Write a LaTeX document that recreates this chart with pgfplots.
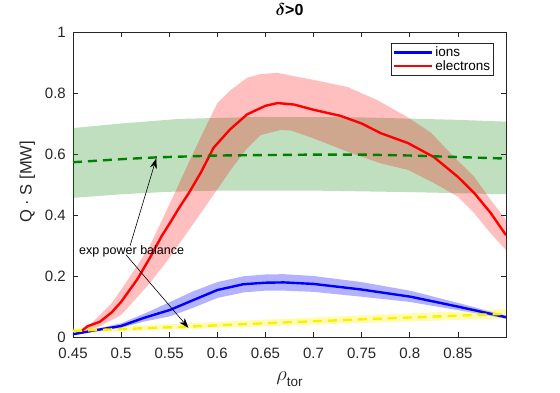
\documentclass[border=0pt]{standalone}
\usepackage{fontspec}
\setmainfont{Liberation Sans}
\usepackage{amsmath}
\usepackage{pgfplots}
\pgfplotsset{compat=1.18}
\usetikzlibrary{arrows.meta}
\definecolor{mgray}{HTML}{262626}
\definecolor{mgreen}{rgb}{0,0.5,0}
\definecolor{myellow}{rgb}{0.97,0.95,0}
\newcommand\fsTick{\fontsize{15bp}{17bp}\selectfont}
\newcommand\fsLab{\fontsize{16.5bp}{18bp}\selectfont}
\newcommand\fsLeg{\fontsize{13.5bp}{15bp}\selectfont}
\newcommand\fsAnn{\fontsize{12.5bp}{14bp}\selectfont}
\tikzset{annarrow/.style={-{Stealth[length=10bp,width=7bp]}, line width=0.6bp}}
\pgfplotsset{leglinecode/.style={legend image code/.code={\draw[##1] (0bp,0bp) -- (38bp,0bp);}}}

\begin{document}
\begin{tikzpicture}
\useasboundingbox (-73bp,-56bp) rectangle (487bp,337bp);
\begin{axis}[
  scale only axis, width=433bp, height=305bp,
  xmin=0.45, xmax=0.9, ymin=0, ymax=1,
  xtick={0.45,0.5,0.55,0.6,0.65,0.7,0.75,0.8,0.85},
  xticklabels={0.45,0.5,0.55,0.6,0.65,0.7,0.75,0.8,0.85},
  ytick={0,0.2,0.4,0.6,0.8,1},
  yticklabels={0,0.2,0.4,0.6,0.8,1},
  tick align=inside, major tick length=5bp,
  axis line style={mgray, line width=0.6bp},
  tick style={mgray, line width=0.6bp},
  ticklabel style={font=\fsTick, text=mgray, inner sep=0pt},
  xticklabel style={yshift=-10.5bp},
  yticklabel style={xshift=-7bp},
  title={{\fontsize{18bp}{18bp}\selectfont$\boldsymbol{\delta}$}{\fontsize{16bp}{18bp}\selectfont\bfseries{>}0}},
  title style={at={(axis description cs:0.5,1.054)}, anchor=center, inner sep=0pt},
  xlabel={{\fontsize{19bp}{19bp}\selectfont$\rho$}\raisebox{-6bp}{\fontsize{13.5bp}{14bp}\selectfont tor}},
  xlabel style={at={(axis description cs:0.5,-0.144)}, anchor=base, text=mgray},
  ylabel={Q · S [MW]},
  ylabel style={at={(axis description cs:-0.0958,0.509)}, anchor=base, font=\fsLab, text=mgray},
  legend style={at={(0.972,0.964)}, anchor=north east, draw=mgray, font=\fsLeg,
    inner sep=1.5bp, row sep=-1.5bp},
  legend cell align=left,
  leglinecode,
]
% bands
\addplot[draw=none, fill=mgreen, fill opacity=0.25, forget plot] coordinates {
 (0.45,0.685) (0.5,0.700) (0.56,0.715) (0.65,0.722) (0.75,0.720) (0.85,0.712) (0.9,0.706)
 (0.9,0.468) (0.8,0.475) (0.7,0.48) (0.6,0.48) (0.55,0.476) (0.5,0.468) (0.45,0.456)
};
\addplot[draw=none, fill=red, fill opacity=0.25, forget plot] coordinates {
 (0.459,0.022) (0.471,0.05) (0.49,0.11) (0.5,0.155) (0.517,0.235) (0.53,0.30)
 (0.554,0.46) (0.57,0.57) (0.585,0.67) (0.6,0.767) (0.614,0.81) (0.631,0.85)
 (0.645,0.862) (0.6625,0.866) (0.68,0.855) (0.70,0.843) (0.735,0.82) (0.766,0.777)
 (0.798,0.72) (0.822,0.67) (0.843,0.60) (0.867,0.525) (0.884,0.45) (0.9,0.384)
 (0.9,0.285) (0.884,0.34) (0.867,0.406) (0.85,0.46) (0.825,0.505) (0.798,0.548)
 (0.769,0.57) (0.735,0.608) (0.70,0.651) (0.685,0.668) (0.676,0.677) (0.666,0.679)
 (0.645,0.662) (0.63,0.615) (0.614,0.548)
 (0.585,0.416) (0.548,0.25) (0.53,0.177) (0.5,0.072) (0.478,0.035) (0.459,0.015)
};
\addplot[draw=none, fill=blue, fill opacity=0.3, forget plot] coordinates {
 (0.45,0.012) (0.471,0.024) (0.5,0.045) (0.523,0.075) (0.551,0.115) (0.575,0.15)
 (0.6,0.18) (0.627,0.199) (0.65,0.205) (0.669,0.206) (0.70,0.200) (0.75,0.180)
 (0.80,0.152) (0.85,0.112) (0.9,0.07)
 (0.9,0.06) (0.85,0.088) (0.80,0.115) (0.75,0.132) (0.70,0.148) (0.669,0.152)
 (0.65,0.152) (0.627,0.146) (0.6,0.128) (0.575,0.096) (0.551,0.068) (0.523,0.050)
 (0.5,0.030) (0.471,0.018) (0.45,0.007)
};
\addplot[draw=none, fill=yellow, fill opacity=0.3, forget plot] coordinates {
 (0.45,0.028) (0.55,0.042) (0.65,0.057) (0.75,0.071) (0.85,0.084) (0.9,0.092)
 (0.9,0.06) (0.85,0.056) (0.75,0.046) (0.65,0.035) (0.55,0.025) (0.45,0.012)
};
% lines
\addplot[blue, line width=2.4bp] coordinates {
 (0.45,0.009) (0.471,0.021) (0.5,0.036) (0.523,0.062) (0.551,0.089) (0.575,0.121)
 (0.6,0.154) (0.627,0.173) (0.65,0.178) (0.669,0.179) (0.70,0.174) (0.749,0.156)
 (0.801,0.132) (0.851,0.099) (0.9,0.065)
};
\addlegendentry{ions}
\addplot[red, line width=2.4bp] coordinates {
 (0.459,0.02) (0.465,0.035) (0.478,0.05) (0.49,0.08) (0.5,0.115) (0.517,0.19)
 (0.53,0.26) (0.542,0.33) (0.55,0.37) (0.561,0.427) (0.57,0.47) (0.583,0.54)
 (0.596,0.62) (0.613,0.68) (0.631,0.73) (0.65,0.758) (0.6625,0.767) (0.68,0.762)
 (0.70,0.745) (0.728,0.725) (0.75,0.70) (0.77,0.668) (0.798,0.636) (0.825,0.59)
 (0.85,0.525) (0.867,0.472) (0.884,0.407) (0.9,0.334)
};
\addlegendentry{electrons}
\addplot[mgreen, line width=2.4bp, dash pattern=on 9bp off 6bp, forget plot] coordinates {
 (0.45,0.573) (0.5,0.583) (0.537,0.589) (0.6,0.595) (0.7,0.598) (0.75,0.598)
 (0.8,0.595) (0.85,0.59) (0.9,0.585)
};
\addplot[myellow, line width=2.4bp, dash pattern=on 9bp off 6bp, forget plot] coordinates {
 (0.45,0.02) (0.5,0.026) (0.57,0.034) (0.65,0.045) (0.75,0.058) (0.85,0.07) (0.9,0.076)
};
% annotation anchors
\coordinate (a1s) at (axis cs:0.5094,0.30);
\coordinate (a1e) at (axis cs:0.5365,0.585);
\coordinate (a2s) at (axis cs:0.505,0.27);
\coordinate (a2e) at (axis cs:0.570,0.030);
\coordinate (txt) at (axis cs:0.5109,0.282);
\end{axis}
\draw[annarrow] (a1s) -- (a1e);
\draw[annarrow] (a2s) -- (a2e);
\node[font=\fsAnn, inner sep=0pt] at (txt) {exp power balance};
\end{tikzpicture}
\end{document}
